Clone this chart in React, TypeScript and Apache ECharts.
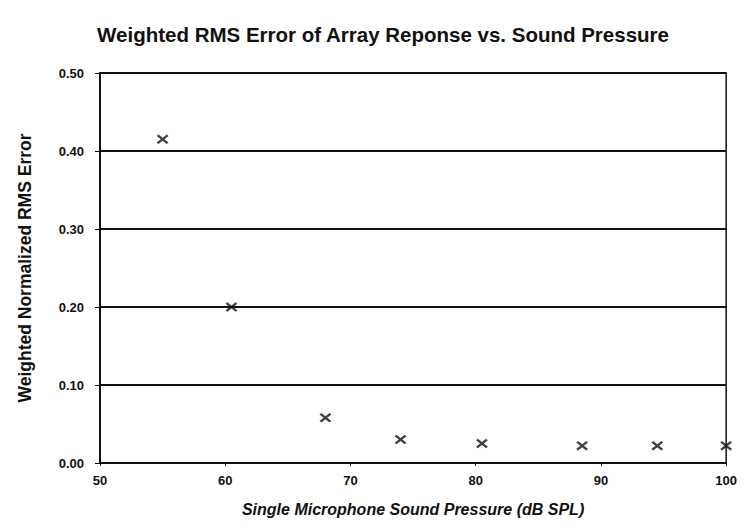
import React, { useEffect, useRef } from "react";
import * as echarts from "echarts";

const soundPressure = [55, 60.5, 68, 74, 80.5, 88.5, 94.5, 100];
const rmsError = [0.415, 0.2, 0.058, 0.03, 0.025, 0.022, 0.022, 0.022];

const titleText = "Weighted RMS Error of Array Reponse vs. Sound Pressure";
const xName = "Single Microphone Sound Pressure (dB SPL)";
const yName = "Weighted Normalized RMS Error";

export default function App() {
  const ref = useRef<HTMLDivElement>(null);
  useEffect(() => {
    if (!ref.current) return;
    const chart = echarts.init(ref.current, null, { renderer: "svg" });
    const font = "Liberation Sans, Arial, sans-serif";
    chart.setOption({
      animation: false,
      backgroundColor: "#fff",
      title: {
        text: titleText,
        left: 370,
        textAlign: "center",
        top: 11,
        textStyle: { fontFamily: font, fontWeight: "bold", fontSize: 20.5, color: "#111" },
      },
      grid: {
        left: 90,
        right: 7,
        top: 65,
        bottom: 54,
        show: true,
        borderColor: "#111",
        borderWidth: 1.5,
      },
      xAxis: {
        type: "value",
        min: 50,
        max: 100,
        interval: 10,
        name: xName,
        nameLocation: "middle",
        nameGap: 38,
        nameTextStyle: { fontFamily: font, fontWeight: "bold", fontStyle: "italic", fontSize: 16, color: "#111" },
        axisLine: { show: true, lineStyle: { color: "#111", width: 2 } },
        axisTick: { show: true, length: 3, lineStyle: { color: "#111" } },
        axisLabel: { fontFamily: font, fontWeight: "bold", fontSize: 13, color: "#111", margin: 11 },
        splitLine: { show: false },
      },
      yAxis: {
        type: "value",
        min: 0,
        max: 0.5,
        interval: 0.1,
        name: yName,
        nameLocation: "middle",
        nameGap: 66,
        nameTextStyle: { fontFamily: font, fontWeight: "bold", fontSize: 17.5, color: "#111" },
        axisLine: { show: true, lineStyle: { color: "#111", width: 2 } },
        axisTick: { show: true, length: 5, lineStyle: { color: "#111" } },
        axisLabel: {
          fontFamily: font,
          fontWeight: "bold",
          fontSize: 13,
          color: "#111",
          margin: 16,
          formatter: (v: number) => v.toFixed(2),
        },
        splitLine: { show: true, lineStyle: { color: "#111", width: 2 } },
      },
      series: [
        {
          type: "scatter",
          data: soundPressure.map((x, i) => [x, rmsError[i]]),
          symbol: "path://M0,0L10,8M10,0L0,8",
          symbolSize: [10, 8],
          itemStyle: { color: "none", borderColor: "#111", borderWidth: 2.4 },
        },
      ],
    });
    return () => chart.dispose();
  }, []);
  return <div ref={ref} style={{ width: 732, height: 514 }} />;
}
